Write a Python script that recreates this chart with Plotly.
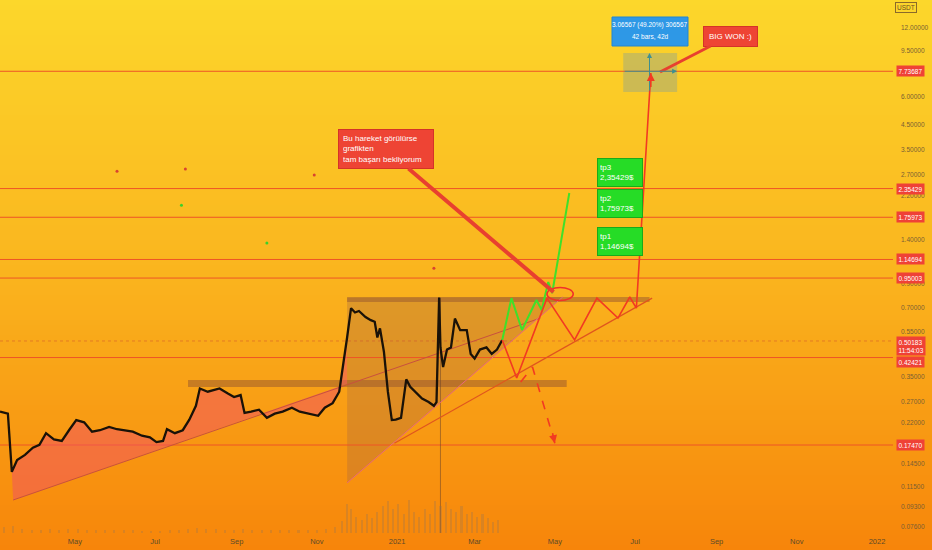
import math
import pandas as pd
import plotly.graph_objects as go

# ---------------- data ----------------
price_dates = ['2020-03-05','2020-03-11','2020-03-14','2020-03-18','2020-03-24','2020-03-30','2020-04-04','2020-04-09',
               '2020-04-15','2020-04-21','2020-04-27','2020-05-02','2020-05-08','2020-05-14','2020-05-20','2020-05-27',
               '2020-06-02','2020-06-08','2020-06-14','2020-06-21','2020-06-27','2020-07-02','2020-07-07','2020-07-10',
               '2020-07-16','2020-07-22','2020-07-27','2020-08-01','2020-08-04','2020-08-10','2020-08-15','2020-08-19',
               '2020-08-25','2020-08-30','2020-09-04','2020-09-07','2020-09-12','2020-09-18','2020-09-24','2020-09-30',
               '2020-10-06','2020-10-13','2020-10-19','2020-10-27','2020-11-02','2020-11-07','2020-11-13','2020-11-18',
               '2020-11-22','2020-11-24','2020-11-27','2020-11-30','2020-12-03','2020-12-08','2020-12-12','2020-12-15',
               '2020-12-17','2020-12-19','2020-12-22','2020-12-25','2020-12-28','2020-12-31','2021-01-04','2021-01-08',
               '2021-01-11','2021-01-15','2021-01-20','2021-01-25','2021-01-29','2021-01-31','2021-02-01','2021-02-02',
               '2021-02-03','2021-02-05','2021-02-08','2021-02-11','2021-02-14','2021-02-18','2021-02-23','2021-02-26',
               '2021-03-01','2021-03-05','2021-03-10','2021-03-14','2021-03-18','2021-03-22']
price_close = [0.245, 0.240, 0.133, 0.150, 0.158, 0.170, 0.175, 0.197,
               0.185, 0.182, 0.205, 0.225, 0.220, 0.200, 0.203, 0.210,
               0.205, 0.203, 0.200, 0.192, 0.189, 0.180, 0.182, 0.205,
               0.197, 0.203, 0.226, 0.260, 0.310, 0.300, 0.305, 0.310,
               0.295, 0.284, 0.290, 0.242, 0.245, 0.250, 0.230, 0.240,
               0.245, 0.255, 0.245, 0.240, 0.235, 0.255, 0.267, 0.300,
               0.420, 0.520, 0.700, 0.670, 0.680, 0.640, 0.620, 0.610,
               0.520, 0.570, 0.450, 0.300, 0.225, 0.226, 0.230, 0.340,
               0.315, 0.300, 0.280, 0.270, 0.260, 0.270, 0.490, 0.780,
               0.470, 0.385, 0.460, 0.470, 0.630, 0.560, 0.560, 0.440,
               0.420, 0.460, 0.470, 0.440, 0.460, 0.507]

vol_dates = ['2020-03-08','2020-03-15','2020-03-22','2020-03-29','2020-04-05','2020-04-12','2020-04-19','2020-04-26',
             '2020-05-03','2020-05-10','2020-05-17','2020-05-24','2020-05-31','2020-06-07','2020-06-14','2020-06-21',
             '2020-06-28','2020-07-05','2020-07-12','2020-07-19','2020-07-26','2020-08-02','2020-08-09','2020-08-16',
             '2020-08-23','2020-08-30','2020-09-06','2020-09-13','2020-09-20','2020-09-27','2020-10-04','2020-10-11',
             '2020-10-18','2020-10-25','2020-11-01','2020-11-08','2020-11-15','2020-11-20','2020-11-24','2020-11-27',
             '2020-12-01','2020-12-05','2020-12-09','2020-12-13','2020-12-17','2020-12-21','2020-12-25','2020-12-29',
             '2021-01-02','2021-01-06','2021-01-10','2021-01-14','2021-01-18','2021-01-22','2021-01-26','2021-01-30',
             '2021-02-03','2021-02-07','2021-02-11','2021-02-15','2021-02-19','2021-02-23','2021-02-27','2021-03-03',
             '2021-03-07','2021-03-11','2021-03-15','2021-03-19']
vol_values = [12, 14, 8, 6, 6, 7, 6, 7,
              8, 6, 5, 5, 6, 5, 5, 4,
              4, 4, 5, 6, 7, 10, 8, 7,
              6, 6, 7, 5, 5, 5, 5, 5,
              5, 6, 6, 8, 12, 22, 55, 45,
              30, 25, 35, 28, 40, 50, 60, 45,
              55, 35, 62, 40, 30, 45, 35, 60,
              50, 58, 45, 40, 50, 35, 40, 30,
              35, 28, 20, 25]

level_values = [7.73687, 2.35429, 1.75973, 1.14694, 0.95003, 0.42421, 0.17470]
last_price = 0.50183
last_time = '11:54:03'

y_tick_values = [12.0, 9.5, 6.0, 4.5, 3.5, 2.7, 2.2, 1.4, 0.9, 0.7, 0.55,
                 0.35, 0.27, 0.22, 0.145, 0.115, 0.093, 0.076]
x_tick_dates = ['2020-05-01','2020-07-01','2020-09-01','2020-11-01','2021-01-01','2021-03-01',
                '2021-05-01','2021-07-01','2021-09-01','2021-11-01','2022-01-01']
x_tick_labels = ['May','Jul','Sep','Nov','2021','Mar','May','Jul','Sep','Nov','2022']

# drawings (dates / prices)
trend_dates = ['2020-03-15', '2021-04-20']
trend_vals = [0.100, 0.633]
fill_base_dates = ['2020-03-15', '2020-11-24']
fill_base_vals = [0.100, 0.325]
pink_dates = ['2020-11-24', '2021-05-07']
pink_vals = [0.119, 0.784]
orange_dates = ['2020-12-30', '2021-07-14']
orange_vals = [0.178, 0.775]
tri_dates = ['2020-11-24', '2020-11-24', '2021-05-07', '2020-11-24']
tri_vals = [0.775, 0.119, 0.784, 0.775]
top_band_dates = ['2020-11-24', '2021-07-12']
top_band_vals = [0.745, 0.784]
low_band_dates = ['2020-07-26', '2021-05-10']
low_band_vals = [0.315, 0.338]
green_dates = ['2021-03-22','2021-03-29','2021-04-06','2021-04-17','2021-04-21','2021-04-26','2021-04-29','2021-05-12']
green_vals = [0.507, 0.775, 0.561, 0.760, 0.687, 0.912, 0.816, 2.25]
red_dates = ['2021-03-22','2021-04-02','2021-04-25','2021-05-16','2021-06-02','2021-06-18','2021-06-27','2021-07-02','2021-07-13']
red_vals = [0.507, 0.345, 0.775, 0.507, 0.775, 0.633, 0.784, 0.700, 7.60]
dash_dates = ['2021-04-05', '2021-04-14', '2021-05-01']
dash_vals = [0.331, 0.385, 0.178]
ellipse_dates = ['2021-04-25', '2021-05-15']
ellipse_vals = [0.756, 0.863]
measure_dates = ['2021-06-22', '2021-08-02']
measure_vals = [6.27, 9.31]
measure_mid_date = '2021-07-12'
wick_line_date = '2021-02-03'
wick_line_vals = [0.0716, 0.775]
dot_dates = ['2020-06-02', '2020-07-24', '2020-10-30', '2020-07-21', '2020-09-24', '2021-01-29']
dot_vals = [2.81, 2.87, 2.70, 1.99, 1.355, 1.05]
dot_colors = ['#D9432F', '#D9432F', '#D9432F', '#3BD12A', '#3BD12A', '#D9432F']

# ---------------- layout constants ----------------
W, H = 932, 550
ML, MR, MT, MB = 0, 39, 0, 17
PW, PH = W - ML - MR, H - MT - MB
x_start = pd.Timestamp('2020-03-05')
x_end = x_start + pd.Timedelta(days=PW / 1.3148)
y_range = [-1.1453, 1.2025]

LEVEL_COLOR = '#EE5526'
LABEL_RED = '#EF4136'
FONT = 'Liberation Sans'

fig = go.Figure()

# volume
fig.add_trace(go.Bar(x=vol_dates, y=vol_values, yaxis='y2', width=1.6 * 86400000,
                     marker=dict(color='rgba(140,115,95,0.28)', line=dict(width=0)),
                     hoverinfo='skip', showlegend=False))

# triangle shading
fig.add_trace(go.Scatter(x=tri_dates, y=tri_vals, fill='toself', fillcolor='rgba(160,100,70,0.30)',
                         line=dict(width=0), mode='lines', hoverinfo='skip', showlegend=False))

# bands
for bd, bv in [(top_band_dates, top_band_vals), (low_band_dates, low_band_vals)]:
    fig.add_trace(go.Scatter(x=[bd[0], bd[1], bd[1], bd[0], bd[0]], y=[bv[0], bv[0], bv[1], bv[1], bv[0]],
                             fill='toself', fillcolor='rgba(150,85,45,0.50)', line=dict(width=0),
                             mode='lines', hoverinfo='skip', showlegend=False))

# measure rect
fig.add_trace(go.Scatter(x=[measure_dates[0], measure_dates[1], measure_dates[1], measure_dates[0], measure_dates[0]],
                         y=[measure_vals[0], measure_vals[0], measure_vals[1], measure_vals[1], measure_vals[0]],
                         fill='toself', fillcolor='rgba(135,160,150,0.40)', line=dict(width=0),
                         mode='lines', hoverinfo='skip', showlegend=False))

# level lines
for v in level_values:
    fig.add_trace(go.Scatter(x=[x_start, x_end], y=[v, v], mode='lines',
                             line=dict(color=LEVEL_COLOR, width=1), hoverinfo='skip', showlegend=False))
fig.add_trace(go.Scatter(x=[x_start, x_end], y=[last_price, last_price], mode='lines',
                         line=dict(color='rgba(200,70,50,0.55)', width=0.8, dash='dot'),
                         hoverinfo='skip', showlegend=False))

# vertical range line
fig.add_trace(go.Scatter(x=[wick_line_date, wick_line_date], y=wick_line_vals, mode='lines',
                         line=dict(color='rgba(110,70,40,0.55)', width=1), hoverinfo='skip', showlegend=False))

# pink fill under price
fig.add_trace(go.Scatter(x=fill_base_dates, y=fill_base_vals, mode='lines', line=dict(width=0),
                         hoverinfo='skip', showlegend=False))
fill_x = [d for d in price_dates if '2020-03-14' <= d <= '2020-11-24']
fill_y = [price_close[i] for i, d in enumerate(price_dates) if '2020-03-14' <= d <= '2020-11-24']
fig.add_trace(go.Scatter(x=fill_x, y=fill_y, mode='lines', line=dict(width=0), fill='tonexty',
                         fillcolor='rgba(240,85,95,0.55)', hoverinfo='skip', showlegend=False))

# trend lines
fig.add_trace(go.Scatter(x=trend_dates, y=trend_vals, mode='lines', line=dict(color='#C9503E', width=1),
                         hoverinfo='skip', showlegend=False))
fig.add_trace(go.Scatter(x=pink_dates, y=pink_vals, mode='lines', line=dict(color='#E8687A', width=1),
                         hoverinfo='skip', showlegend=False))
fig.add_trace(go.Scatter(x=orange_dates, y=orange_vals, mode='lines', line=dict(color='#E0551E', width=1.2),
                         hoverinfo='skip', showlegend=False))

# price
fig.add_trace(go.Scatter(x=price_dates, y=price_close, mode='lines', line=dict(color='#1a1208', width=2.3),
                         hoverinfo='skip', showlegend=False))

# projections
fig.add_trace(go.Scatter(x=green_dates, y=green_vals, mode='lines', line=dict(color='#3FE02A', width=2),
                         hoverinfo='skip', showlegend=False))
fig.add_trace(go.Scatter(x=red_dates, y=red_vals, mode='lines', line=dict(color='#F23A22', width=1.6),
                         hoverinfo='skip', showlegend=False))
fig.add_trace(go.Scatter(x=dash_dates, y=dash_vals, mode='lines', line=dict(color='#F23A22', width=1.6, dash='dash'),
                         hoverinfo='skip', showlegend=False))

# stray dots
fig.add_trace(go.Scatter(x=dot_dates, y=dot_vals, mode='markers', marker=dict(color=dot_colors, size=3),
                         hoverinfo='skip', showlegend=False))

shapes = []
# gradient background
stops = [(0.0, (252, 215, 43)), (0.5, (250, 180, 30)), (1.0, (247, 133, 10))]
def grad(t):
    for (t0, c0), (t1, c1) in zip(stops[:-1], stops[1:]):
        if t <= t1:
            f = (t - t0) / (t1 - t0)
            return 'rgb(%d,%d,%d)' % tuple(round(a + (b - a) * f) for a, b in zip(c0, c1))
    return 'rgb(%d,%d,%d)' % stops[-1][1]
step = 5
for p in range(0, H, step):
    shapes.append(dict(type='rect', xref='paper', yref='paper', layer='below',
                       x0=-0.01, x1=W / PW + 0.01, y0=1 - (p + step + 1) / PH, y1=1 - p / PH,
                       fillcolor=grad((p + step / 2) / H), line=dict(width=0)))
# ellipse
shapes.append(dict(type='circle', xref='x', yref='y', x0=ellipse_dates[0], x1=ellipse_dates[1],
                   y0=ellipse_vals[0], y1=ellipse_vals[1], line=dict(color='#F0302A', width=1.5)))
# blue measure box
shapes.append(dict(type='rect', xref='paper', yref='paper', x0=612 / PW, x1=688 / PW,
                   y0=1 - 46 / PH, y1=1 - 17 / PH, fillcolor='#2E98E6', line=dict(color='#2385d0', width=1)))

annotations = []
# axis price labels
for v in level_values:
    annotations.append(dict(xref='paper', x=1, xanchor='left', xshift=3, yref='y', y=math.log10(v),
                            yanchor='middle', yshift=(-4 if v == 0.42421 else 0),
                            text='%.5f' % v, showarrow=False, bgcolor=LABEL_RED, borderpad=1.5,
                            font=dict(color='white', size=6.5, family=FONT)))
annotations.append(dict(xref='paper', x=1, xanchor='left', xshift=3, yref='y', y=math.log10(last_price),
                        yanchor='top', yshift=5, text='%.5f<br>%s' % (last_price, last_time), showarrow=False,
                        bgcolor=LABEL_RED, borderpad=1.5, align='left',
                        font=dict(color='white', size=6.5, family=FONT)))
# USDT badge
annotations.append(dict(xref='paper', x=906 / PW, yref='paper', y=1 - 8 / PH, xanchor='center', yanchor='middle',
                        text='USDT', showarrow=False,
                        bgcolor='#FCD52B', bordercolor='#8a6a2a', borderwidth=1, borderpad=1,
                        font=dict(color='#6b5020', size=6.5, family=FONT)))
# tp boxes
for txt, cy in [('tp3<br>2,35429$', 172.5), ('tp2<br>1,75973$', 203), ('tp1<br>1,14694$', 241.5)]:
    annotations.append(dict(xref='paper', x=620 / PW, yref='paper', y=1 - cy / PH, xanchor='center',
                            yanchor='middle', text=txt, showarrow=False,
                            align='left', width=40, height=23, bgcolor='#26DC26', bordercolor='#1BAA1B',
                            borderwidth=1, borderpad=2, font=dict(color='white', size=8, family=FONT)))
# callout 1
annotations.append(dict(xref='x', yref='y', x='2021-04-30', y=math.log10(0.824), ax=-168, ay=-143,
                        text='Bu hareket görülürse<br>grafikten<br>tam başarı bekliyorum', align='left',
                        showarrow=True, arrowhead=0, arrowwidth=4, arrowcolor='#E8402F',
                        bgcolor='#EE4434', bordercolor='#D43328', borderwidth=1, borderpad=4, width=86,
                        font=dict(color='white', size=8, family=FONT)))
# callout 2
annotations.append(dict(xref='x', yref='y', x='2021-07-20', y=math.log10(7.68), ax=70, ay=-36,
                        text='BIG WON :)', showarrow=True, arrowhead=0, arrowwidth=3, arrowcolor='#E8402F',
                        bgcolor='#EE4434', bordercolor='#D43328', borderwidth=1, borderpad=5,
                        font=dict(color='white', size=8, family=FONT)))
# blue box text
annotations.append(dict(xref='paper', yref='paper', x=650 / PW, y=1 - 25 / PH, xanchor='center', yanchor='middle',
                        text='3.06567 (49.20%) 306567', showarrow=False,
                        font=dict(color='white', size=6.5, family=FONT)))
annotations.append(dict(xref='paper', yref='paper', x=650 / PW, y=1 - 37 / PH, xanchor='center', yanchor='middle',
                        text='42 bars, 42d', showarrow=False, font=dict(color='white', size=6.5, family=FONT)))
# measure arrows
annotations.append(dict(xref='x', yref='y', axref='x', ayref='y', x=measure_mid_date, y=math.log10(measure_vals[1]),
                        ax=measure_mid_date, ay=math.log10(measure_vals[0]), text='', showarrow=True,
                        arrowhead=2, arrowsize=1, arrowwidth=1, arrowcolor='#3F8F8F'))
annotations.append(dict(xref='x', yref='y', axref='x', ayref='y', x=measure_dates[1], y=math.log10(level_values[0]),
                        ax=measure_dates[0], ay=math.log10(level_values[0]), text='', showarrow=True,
                        arrowhead=2, arrowsize=1, arrowwidth=1, arrowcolor='#3F8F8F'))
# red arrowheads
annotations.append(dict(xref='x', yref='y', axref='x', ayref='y', x=red_dates[-1], y=math.log10(red_vals[-1]),
                        ax=red_dates[-1], ay=math.log10(6.5), text='', showarrow=True,
                        arrowhead=2, arrowsize=1, arrowwidth=1.6, arrowcolor='#F23A22'))
annotations.append(dict(xref='x', yref='y', axref='x', ayref='y', x=dash_dates[-1], y=math.log10(dash_vals[-1]),
                        ax='2021-04-29', ay=math.log10(0.2), text='', showarrow=True,
                        arrowhead=2, arrowsize=1, arrowwidth=1.6, arrowcolor='#F23A22'))

fig.update_layout(
    width=W, height=H, margin=dict(l=ML, r=MR, t=MT, b=MB),
    paper_bgcolor='rgb(247,133,10)', plot_bgcolor='rgba(0,0,0,0)',
    showlegend=False, shapes=shapes, annotations=annotations, bargap=0,
    font=dict(family=FONT),
    xaxis=dict(type='date', range=[x_start, x_end], showgrid=False, zeroline=False, showline=False,
               tickvals=x_tick_dates, ticktext=x_tick_labels, ticks='', ticklabelstandoff=2,
               tickfont=dict(size=7.5, color='#5e4a28', family=FONT)),
    yaxis=dict(type='log', side='right', range=y_range, showgrid=False, zeroline=False, showline=False,
               tickvals=y_tick_values, ticktext=['%.5f' % v for v in y_tick_values],
               ticks='', ticklabelstandoff=7,
               tickfont=dict(size=6.5, color='#7a5e34', family=FONT)),
    yaxis2=dict(overlaying='y', range=[0, 1000], visible=False),
)

fig.write_html('out.html', config={'displayModeBar': False},
               post_script="document.body.style.margin='0px';document.body.style.padding='0px';")
